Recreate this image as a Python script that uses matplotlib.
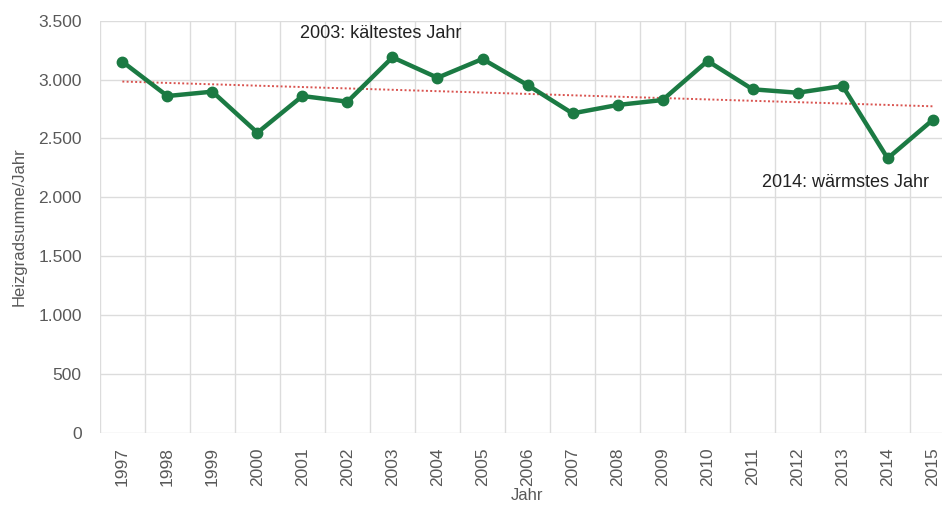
import matplotlib
matplotlib.use("Agg")
import matplotlib.pyplot as plt
import numpy as np
from matplotlib.ticker import FuncFormatter

plt.rcParams['font.family'] = ['Liberation Sans', 'DejaVu Sans']

years = ['1997', '1998', '1999', '2000', '2001', '2002', '2003', '2004', '2005', '2006',
         '2007', '2008', '2009', '2010', '2011', '2012', '2013', '2014', '2015']
values = [3151, 2860, 2897, 2549, 2860, 2812, 3188, 3015, 3174, 2953,
          2713, 2784, 2826, 3157, 2917, 2888, 2945, 2332, 2657]
yticks = [0, 500, 1000, 1500, 2000, 2500, 3000, 3500]

green = '#1b7a43'
grid_c = '#dcdcdc'
text_c = '#595959'

fig = plt.figure(figsize=(9.42, 5.05), dpi=100)
ax = fig.add_axes([0.106, 0.1416, 0.908, 0.8178])

x = np.arange(len(years))
# linear trend line
coef = np.polyfit(x, values, 1)
ax.plot(x, np.polyval(coef, x), linestyle=(0, (1, 1.2)), color='#d9534f', lw=1.4, zorder=2)
ax.plot(x, values, color=green, lw=3.2, marker='o', markersize=7.5, zorder=3)

ax.set_xlim(-0.5, len(years) - 0.5)
ax.set_ylim(0, 3500)
ax.set_yticks(yticks)
ax.yaxis.set_major_formatter(FuncFormatter(lambda v, p: f"{int(v):,}".replace(',', '.')))
ax.set_xticks(x)
ax.set_xticklabels(years, rotation=90)
ax.set_xticks(np.arange(-0.5, len(years) + 0.5, 1), minor=True)

ax.grid(axis='y', which='major', color=grid_c, lw=1)
ax.grid(axis='x', which='minor', color=grid_c, lw=1)
ax.set_axisbelow(True)
for s in ax.spines.values():
    s.set_visible(False)
ax.tick_params(axis='both', which='both', length=0, labelsize=12.5, colors=text_c)
ax.tick_params(axis='x', pad=10)
ax.tick_params(axis='y', pad=13)

ax.set_ylabel('Heizgradsumme/Jahr', fontsize=12, color=text_c, labelpad=8)
ax.set_xlabel('Jahr', fontsize=12, color=text_c, labelpad=1.5)

ax.text(3.94, 3394, '2003: kältestes Jahr', fontsize=13, color='#222222', va='center', ha='left')
ax.text(14.2, 2123, '2014: wärmstes Jahr', fontsize=13, color='#222222', va='center', ha='left')

fig.savefig('out.png', dpi=100)
